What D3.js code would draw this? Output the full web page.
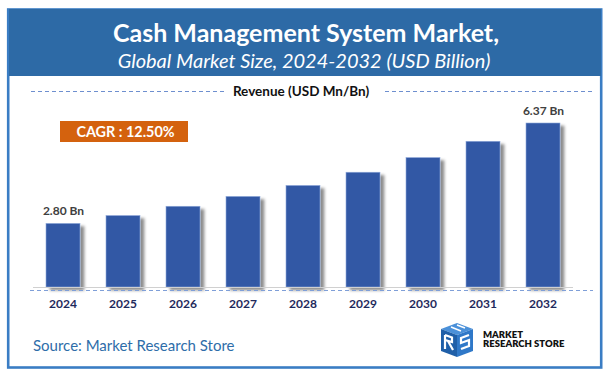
<!DOCTYPE html>
<html>
<head>
<meta charset="utf-8">
<script src="https://cdn.jsdelivr.net/npm/d3@7/dist/d3.min.js"></script>
<style>
  html, body { margin: 0; padding: 0; background: #fff; }
  svg { display: block; }
  text { font-family: Lato, "Open Sans", sans-serif; }
</style>
</head>
<body>
<svg id="chart" width="611" height="379"></svg>
<script>
// ---- data ----
const years = ["2024", "2025", "2026", "2027", "2028", "2029", "2030", "2031", "2032"];
const revenue = [2.80, 3.08, 3.41, 3.76, 4.15, 4.62, 5.14, 5.72, 6.37];
const valueLabels = ["2.80 Bn", "", "", "", "", "", "", "", "6.37 Bn"];
const titleText = "Cash Management System Market,";
const subtitleText = "Global Market Size, 2024-2032 (USD Billion)";
const legendText = "Revenue (USD Mn/Bn)";
const cagrText = "CAGR : 12.50%";
const sourceText = "Source: Market Research Store";
const yDomain = [0.54, 6.37];

const svg = d3.select("#chart");
const defs = svg.append("defs");
const f = defs.append("filter").attr("id", "shadow").attr("x", "-20%").attr("y", "-10%").attr("width", "160%").attr("height", "130%");
f.append("feDropShadow").attr("dx", 4).attr("dy", 3).attr("stdDeviation", 1.6)
  .attr("flood-color", "#000").attr("flood-opacity", 0.45);

// frame
svg.append("rect").attr("x", 8.2).attr("y", 9.5).attr("width", 593).attr("height", 358)
  .attr("fill", "#fff").attr("stroke", "#3A7DC4").attr("stroke-width", 2.6);
// header
svg.append("rect").attr("x", 9).attr("y", 9).attr("width", 592).attr("height", 67).attr("fill", "#2D6AA6");
svg.append("text").attr("x", 306).attr("y", 42).attr("text-anchor", "middle")
  .attr("fill", "#fff").attr("font-weight", 700).attr("font-size", 25).text(titleText);
svg.append("text").attr("x", 304).attr("y", 68).attr("text-anchor", "middle")
  .attr("fill", "#fff").attr("font-style", "italic").attr("font-size", 20).text(subtitleText);

// legend line
svg.append("line").attr("x1", 31).attr("x2", 225).attr("y1", 91.5).attr("y2", 91.5)
  .attr("stroke", "#6E8FCF").attr("stroke-width", 1).attr("stroke-dasharray", "4,3");
svg.append("line").attr("x1", 385).attr("x2", 593).attr("y1", 91.5).attr("y2", 91.5)
  .attr("stroke", "#6E8FCF").attr("stroke-width", 1).attr("stroke-dasharray", "4,3");
svg.append("text").attr("x", 301).attr("y", 96).attr("text-anchor", "middle")
  .attr("fill", "#111").attr("font-weight", 700).attr("font-size", 13.5).text(legendText);

// CAGR box
svg.append("rect").attr("x", 60).attr("y", 121).attr("width", 128).attr("height", 21).attr("fill", "#D4620E");
svg.append("text").attr("x", 125.5).attr("y", 136.8).attr("text-anchor", "middle")
  .attr("fill", "#fff").attr("font-weight", 700).attr("font-size", 14.4).text(cagrText);

// scales
const x = d3.scaleBand().domain(years).range([16, 590]).paddingInner(0.4333).paddingOuter(0.5);
const y = d3.scaleLinear().domain(yDomain).range([287, 123]);

const data = years.map((yr, i) => ({ year: yr, value: revenue[i], label: valueLabels[i] }));

// bars
svg.append("g").selectAll("rect").data(data).join("rect")
  .attr("x", d => x(d.year))
  .attr("y", d => y(d.value))
  .attr("width", x.bandwidth())
  .attr("height", d => y.range()[0] - y(d.value))
  .attr("fill", "#3358A5")
  .attr("stroke", "#8FA8DA").attr("stroke-width", 0.6)
  .attr("filter", "url(#shadow)");

// baseline
svg.append("line").attr("x1", 33).attr("x2", 573).attr("y1", 287.5).attr("y2", 287.5)
  .attr("stroke", "#D0D0D0").attr("stroke-width", 1.2);
svg.append("line").attr("x1", 30).attr("x2", 593).attr("y1", 290.5).attr("y2", 290.5)
  .attr("stroke", "#7F9FD8").attr("stroke-width", 1.2).attr("stroke-dasharray", "4,3");

// value labels
svg.append("g").selectAll("text").data(data.filter(d => d.label)).join("text")
  .attr("x", d => x(d.year) + x.bandwidth() / 2 + 0.5)
  .attr("y", d => y(d.value) - 8.5)
  .attr("text-anchor", "middle")
  .attr("fill", "#404040").attr("font-weight", 700).attr("font-size", 12)
  .text(d => d.label);

// x axis
const xAxis = svg.append("g").attr("transform", "translate(0,291)")
  .call(d3.axisBottom(x).tickSize(0).tickPadding(8));
xAxis.select(".domain").remove();
xAxis.selectAll("text").attr("fill", "#1F2A5C").attr("font-weight", 700).attr("font-size", 12)
  .attr("font-family", "Lato, 'Open Sans', sans-serif");

// source
svg.append("text").attr("x", 33).attr("y", 351).attr("fill", "#2E6DA9").attr("font-size", 15).text(sourceText);

// logo
const logo = svg.append("g").attr("transform", "translate(437,323)");
logo.append("path").attr("d", "M4,6 L20,0 L36,6 L20,12 Z").attr("fill", "#4A90D9");
logo.append("path").attr("d", "M4,6 L20,12 L20,34 L4,28 Z").attr("fill", "#1F5FA8");
logo.append("path").attr("d", "M20,12 L36,6 L36,28 L20,34 Z").attr("fill", "#2F78C8");
logo.append("path").attr("d", "M8,12 L8,26 M8,12 L15,14.5 L15,19 L8,17 M11,18 L16,27")
  .attr("stroke", "#fff").attr("stroke-width", 2.2).attr("fill", "none");
logo.append("path").attr("d", "M32,12 L24,15 L24,20 L32,17 L32,23 L24,26")
  .attr("stroke", "#fff").attr("stroke-width", 2.2).attr("fill", "none");
logo.append("path").attr("d", "M14,4 L24,8 M20,2 L28,5").attr("stroke", "#fff").attr("stroke-width", 1.5);
svg.append("text").attr("x", 483).attr("y", 337.5).attr("fill", "#111").attr("font-weight", 800)
  .attr("font-size", 9.5).attr("font-family", "'Liberation Sans Narrow', 'DejaVu Sans Condensed', sans-serif").text("MARKET");
svg.append("text").attr("x", 483).attr("y", 347).attr("fill", "#111").attr("font-weight", 800)
  .attr("font-size", 9.5).attr("font-family", "'Liberation Sans Narrow', 'DejaVu Sans Condensed', sans-serif").text("RESEARCH STORE");
</script>
</body>
</html>
